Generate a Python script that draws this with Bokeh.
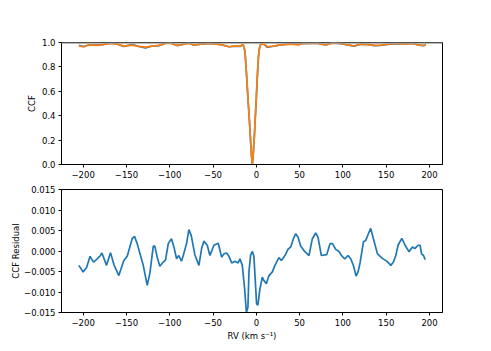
from bokeh.plotting import figure
from bokeh.layouts import column
from bokeh.models import Range1d, FixedTicker, CustomJSTickFormatter, Span
from bokeh.embed import file_html
from bokeh.resources import INLINE

# ---- data ----
rv_ccf = [-205, -199.4, -193.6, -184, -178, -168.4, -160.7, -153, -143.4, -135.7,
          -128, -120.3, -112.6, -104.9, -99.1, -91.4, -83.7, -77.9, -72.1, -64.4,
          -54.8, -47.1, -39.4, -31.7, -24, -18.2, -15.5, -14.3, -13.2, -12.4,
          -11.6, -10.6, -9.7, -8.7, -7.7, -6.9, -6.2, -5.4, -4.6, -3.8,
          -3.1, -2.3, -1.6, -0.8, 0.0, 0.7, 1.5, 2.2, 3.0, 4.0,
          5.3, 8.8, 12.7, 18.5, 28, 39.7, 49.3, 53.2, 62.8, 70.5,
          80.1, 87.9, 97.5, 105.2, 112.8, 120.6, 130.2, 136, 143.7, 151.4,
          161, 170.6, 180.3, 188, 193.8, 195.7]
ccf_model = [0.973, 0.963, 0.981, 0.976, 0.982, 0.992, 0.987, 0.970, 0.979, 0.968,
             0.962, 0.970, 0.976, 0.992, 0.995, 0.976, 0.987, 0.992, 0.979, 0.987,
             0.992, 0.987, 0.981, 0.965, 0.973, 0.970, 0.985, 0.965, 0.930, 0.860,
             0.770, 0.660, 0.550, 0.440, 0.330, 0.230, 0.140, 0.060, 0.005, 0.060,
             0.140, 0.230, 0.330, 0.440, 0.550, 0.660, 0.770, 0.860, 0.930, 0.965,
             0.987, 0.987, 0.965, 0.970, 0.981, 0.987, 0.981, 0.992, 0.992, 0.992,
             0.981, 0.995, 0.992, 0.981, 0.973, 0.987, 0.981, 0.976, 0.979, 0.987,
             0.992, 0.987, 0.992, 0.979, 0.976, 0.985]
ccf_obs = [0.977, 0.967, 0.980, 0.978, 0.982, 0.994, 0.986, 0.968, 0.982, 0.968,
           0.955, 0.971, 0.974, 0.994, 0.996, 0.975, 0.987, 0.996, 0.978, 0.987,
           0.993, 0.989, 0.980, 0.965, 0.971, 0.968, 0.985, 0.960, 0.925, 0.855,
           0.765, 0.655, 0.545, 0.437, 0.327, 0.228, 0.139, 0.060, 0.004, 0.058,
           0.138, 0.228, 0.328, 0.438, 0.544, 0.653, 0.764, 0.856, 0.928, 0.964,
           0.989, 0.985, 0.961, 0.967, 0.980, 0.988, 0.984, 0.991, 0.992, 0.995,
           0.980, 0.996, 0.991, 0.980, 0.970, 0.986, 0.985, 0.974, 0.977, 0.985,
           0.991, 0.989, 0.992, 0.979, 0.975, 0.983]

rv_res = [-205, -200, -196, -192, -188, -184, -180, -178.3, -173, -168.4,
          -164.5, -158.8, -153, -149, -143.4, -140.7, -137.6, -130.6, -126, -123,
          -119, -117.2, -114.5, -111.4, -107.5, -104.9, -101.7, -98, -95.2, -92.1,
          -89.5, -86.4, -84.4, -80.6, -77.9, -75.2, -71, -66.3, -63.2, -60.6,
          -56.7, -53.6, -49, -44, -40.1, -37.5, -34.3, -31.6, -28.5, -24.6,
          -21.1, -18.9, -16.2, -13.5, -11.5, -9.7, -8.5, -6.6, -4.6, -2.8,
          0.3, 1.8, 4.2, 6.9, 8.8, 11.5, 14.6, 18.5, 21.5, 26.1,
          28.9, 33.1, 36.5, 39.7, 42.8, 45.4, 48.1, 51.2, 55.8, 60.8,
          64.7, 68.6, 71.2, 75.1, 81.3, 85.1, 87.9, 91.7, 95.5, 98.3,
          102.1, 105.9, 109, 112.1, 115.2, 117.5, 119.8, 123.7, 126.4, 129.4,
          132.1, 135.2, 139.9, 145.6, 151.4, 155.3, 158.4, 161, 163.7, 168,
          171.8, 176.4, 180.3, 183, 186.8, 189.1, 190.8, 193.1, 195]
res = [-0.0035, -0.0051, -0.0040, -0.0013, -0.0027, -0.0020, -0.0011, -0.0005, -0.0035, -0.0004,
       -0.0033, -0.0060, -0.0023, -0.0012, 0.0030, 0.0036, 0.0018, -0.0035, -0.0084, -0.0055,
       0.0012, 0.0012, -0.0015, -0.0037, -0.0027, -0.0022, 0.0018, 0.0030, 0.0010, -0.0019,
       -0.0011, -0.0025, -0.0011, 0.0018, 0.0052, 0.0038, -0.0009, -0.0035, 0.0006, 0.0024,
       0.0014, -0.0011, 0.0014, 0.0019, -0.0015, -0.0007, -0.0005, -0.0013, -0.0029, -0.0025,
       -0.0029, -0.0019, -0.0035, -0.0092, -0.0150, -0.0137, -0.0050, -0.0010, -0.0001, -0.0013,
       -0.0129, -0.0132, -0.0092, -0.0064, -0.0072, -0.0080, -0.0060, -0.0051, -0.0035, -0.0016,
       -0.0023, -0.0011, 0.0004, 0.0010, 0.0030, 0.0042, 0.0034, 0.0012, -0.0001, -0.0011,
       0.0030, 0.0044, 0.0034, -0.0011, -0.0009, 0.0018, 0.0018, 0.0004, -0.0001, -0.0011,
       -0.0019, -0.0011, -0.0019, -0.0035, -0.0061, -0.0051, -0.0029, 0.0022, 0.0026, 0.0042,
       0.0055, 0.0030, -0.0007, -0.0018, -0.0026, -0.0035, -0.0027, -0.0011, 0.0014, 0.0031,
       0.0014, -0.0002, 0.0010, 0.0006, 0.0014, 0.0014, -0.0007, -0.0011, -0.0021]

x_ticks = [-200, -150, -100, -50, 0, 50, 100, 150, 200]
ccf_ticks = [0.0, 0.2, 0.4, 0.6, 0.8, 1.0]
res_ticks = [-0.015, -0.010, -0.005, 0.0, 0.005, 0.010, 0.015]

FONT = "DejaVu Sans"
FS = "8.5px"
BLUE = "#1f77b4"
ORANGE = "#ff7f0e"


def fmt(dec):
    return CustomJSTickFormatter(code="return tick.toFixed(%d).replace('-', '\\u2212');" % dec)


def style(p):
    p.toolbar.logo = None
    p.grid.visible = False
    p.outline_line_color = "black"
    p.outline_line_width = 1
    p.background_fill_color = "white"
    p.border_fill_color = "white"
    for ax in (p.xaxis[0], p.yaxis[0]):
        ax.axis_line_color = "black"
        ax.major_tick_line_color = "black"
        ax.major_tick_out = 3
        ax.major_tick_in = 0
        ax.minor_tick_line_color = None
        ax.major_label_text_font = FONT
        ax.major_label_text_font_size = FS
        ax.major_label_text_color = "black"
        ax.axis_label_text_font = FONT
        ax.axis_label_text_font_size = FS
        ax.axis_label_text_font_style = "normal"
        ax.axis_label_text_color = "black"
        ax.major_label_standoff = 3
    p.xaxis[0].ticker = FixedTicker(ticks=x_ticks)
    p.xaxis[0].formatter = fmt(0)


p1 = figure(frame_width=381, frame_height=122, output_backend="svg", toolbar_location=None,
            x_range=Range1d(-225, 215), y_range=Range1d(0, 1.0),
            min_border_left=61, min_border_right=41, min_border_top=42, min_border_bottom=20)
style(p1)
p1.yaxis[0].ticker = FixedTicker(ticks=ccf_ticks)
p1.yaxis[0].formatter = fmt(1)
p1.yaxis[0].axis_label = "CCF"
p1.yaxis[0].axis_label_standoff = 2
p1.line(rv_ccf, ccf_obs, line_color=BLUE, line_width=1.7)
p1.line(rv_ccf, ccf_model, line_color=ORANGE, line_width=1.7)
p1.add_layout(Span(location=1.0, dimension="width", line_color="#a0a0a0", line_width=2.5))

p2 = figure(frame_width=381, frame_height=123, output_backend="svg", toolbar_location=None,
            x_range=Range1d(-225, 215), y_range=Range1d(-0.015, 0.015),
            min_border_left=61, min_border_right=41, min_border_top=5, min_border_bottom=30)
style(p2)
p2.yaxis[0].ticker = FixedTicker(ticks=res_ticks)
p2.yaxis[0].formatter = fmt(3)
p2.yaxis[0].axis_label = "CCF Residual"
p2.yaxis[0].axis_label_standoff = 0
p2.xaxis[0].axis_label = "RV (km s\u207b\u00b9)"
p2.xaxis[0].axis_label_standoff = 2
p2.line(rv_res, res, line_color=BLUE, line_width=1.7)

layout = column(p1, p2, spacing=0)
open("out.html", "w").write(file_html(layout, INLINE))
